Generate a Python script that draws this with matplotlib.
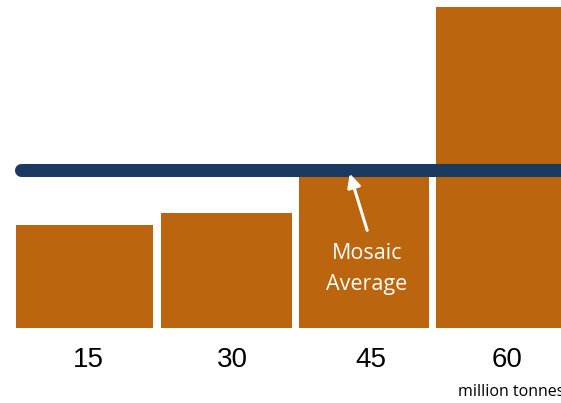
import matplotlib.pyplot as plt

# bar geometry / values (baseline = 0)
bar_left = [16, 161, 299, 436]
bar_width = [137, 131, 130, 145]
bar_height = [103, 115, 156, 321]
labels = ['15', '30', '45', '60']
label_x = [88, 232, 371, 507]
average = 158.5

fig = plt.figure(figsize=(5.61, 4.03), dpi=100)
ax = fig.add_axes([0, 0, 1, 1])
ax.set_xlim(0, 561)
ax.set_ylim(-75, 328)
ax.axis('off')

ax.bar(bar_left, bar_height, width=bar_width, align='edge', color='#BB650E', edgecolor='none')

# average line
ax.plot([21.5, 600], [average, average], color='#1B3A5F', lw=9.4, solid_capstyle='round')

# arrow + text
ax.annotate('', xy=(349, 157), xytext=(368, 95),
            arrowprops=dict(arrowstyle='-|>', color='white', lw=2.2, mutation_scale=20))
ax.text(367, 59, 'Mosaic\nAverage', color='white', fontsize=15.5, family='Open Sans',
        ha='center', va='center', linespacing=1.6)

for x, lab in zip(label_x, labels):
    ax.text(x, -32, lab, fontsize=20, family='Liberation Sans', ha='center', va='center')
# the reference cuts this label off at the right edge too
ax.text(511, -64, 'million tonnes', fontsize=11.5, family='Open Sans', ha='center', va='center')

fig.savefig('out.png', dpi=100)
